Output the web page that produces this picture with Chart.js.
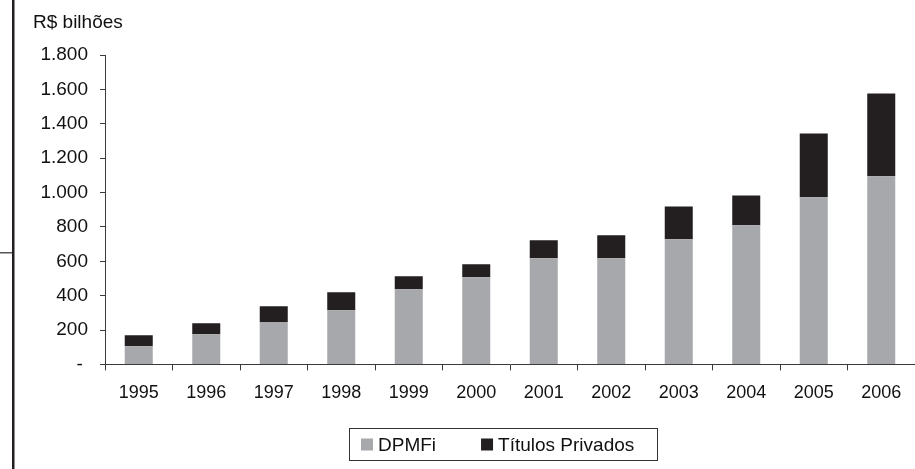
<!DOCTYPE html>
<html>
<head>
<meta charset="utf-8">
<script src="https://cdn.jsdelivr.net/npm/chart.js@4/dist/chart.umd.min.js"></script>
<style>
  html, body { margin: 0; padding: 0; background: #fff; }
  #wrap { position: relative; width: 915px; height: 469px; }
</style>
</head>
<body>
<div id="wrap"><canvas id="chart" width="915" height="469"></canvas></div>
<script>
// Estoque de títulos (R$ bilhões)
const years = ['1995', '1996', '1997', '1998', '1999', '2000', '2001', '2002', '2003', '2004', '2005', '2006'];
const dpmfi = [106, 176, 246, 315, 437, 507, 617, 617, 728, 809, 972, 1095];
const titulosPrivados = [64, 64, 93, 105, 76, 75, 105, 134, 191, 174, 371, 481];
const yTickLabels = ['- ', '200', '400', '600', '800', '1.000', '1.200', '1.400', '1.600', '1.800'];
const unitLabel = 'R$ bilhões';

const FONT = '"Liberation Sans", Arial, sans-serif';
const AXIS = '#3a3a3a';

// Unit caption, page rule on the left and a boxed legend under the axis
const decorations = {
  id: 'decorations',
  afterDraw(chart) {
    const ctx = chart.ctx;
    ctx.save();
    // page rule
    ctx.fillStyle = '#231f20';
    ctx.fillRect(12, 0, 2.5, chart.height);
    ctx.fillStyle = '#555';
    ctx.fillRect(0, 252, 12, 1.5);

    // unit caption
    ctx.fillStyle = '#111';
    ctx.font = '19px ' + FONT;
    ctx.textAlign = 'left';
    ctx.textBaseline = 'alphabetic';
    ctx.fillText(unitLabel, 33, 28);

    // legend
    const boxL = 349.5, boxT = 428.5, boxW = 308, boxH = 32;
    ctx.strokeStyle = '#333';
    ctx.lineWidth = 1;
    ctx.strokeRect(boxL, boxT, boxW, boxH);
    const midY = boxT + boxH / 2;
    let x = boxL + 11.5;
    ctx.textBaseline = 'middle';
    chart.data.datasets.forEach((ds) => {
      ctx.fillStyle = ds.backgroundColor;
      ctx.fillRect(x, midY - 6, 12, 12);
      ctx.fillStyle = '#111';
      ctx.fillText(ds.label, x + 17, midY + 1);
      x += 17 + ctx.measureText(ds.label).width + 45;
    });
    ctx.restore();
  }
};

new Chart(document.getElementById('chart'), {
  type: 'bar',
  data: {
    labels: years,
    datasets: [
      { label: 'DPMFi', data: dpmfi, backgroundColor: '#a7a8ab' },
      { label: 'Títulos Privados', data: titulosPrivados, backgroundColor: '#231f20' }
    ]
  },
  options: {
    responsive: false,
    animation: false,
    devicePixelRatio: 1,
    layout: { padding: { top: 55, right: 0, bottom: 53, left: 0 } },
    datasets: { bar: { barPercentage: 0.415, categoryPercentage: 1 } },
    plugins: { legend: { display: false }, tooltip: { enabled: false }, title: { display: false } },
    scales: {
      x: {
        stacked: true,
        offset: true,
        border: { display: true, color: AXIS, width: 1 },
        grid: { display: true, offset: true, drawOnChartArea: false, drawTicks: true, tickLength: 6, tickColor: AXIS },
        ticks: { color: '#111', font: { family: FONT, size: 18 }, padding: 12, maxRotation: 0, autoSkip: false }
      },
      y: {
        stacked: true,
        min: 0,
        max: 1800,
        afterFit(scale) { scale.width = 105; },
        border: { display: true, color: AXIS, width: 1 },
        grid: { display: true, drawOnChartArea: false, drawTicks: true, tickLength: 5, tickColor: AXIS },
        ticks: {
          stepSize: 200,
          color: '#111',
          padding: 12,
          font: { family: FONT, size: 19 },
          callback: (v) => yTickLabels[Math.round(v / 200)]
        }
      }
    }
  },
  plugins: [decorations]
});
</script>
</body>
</html>
